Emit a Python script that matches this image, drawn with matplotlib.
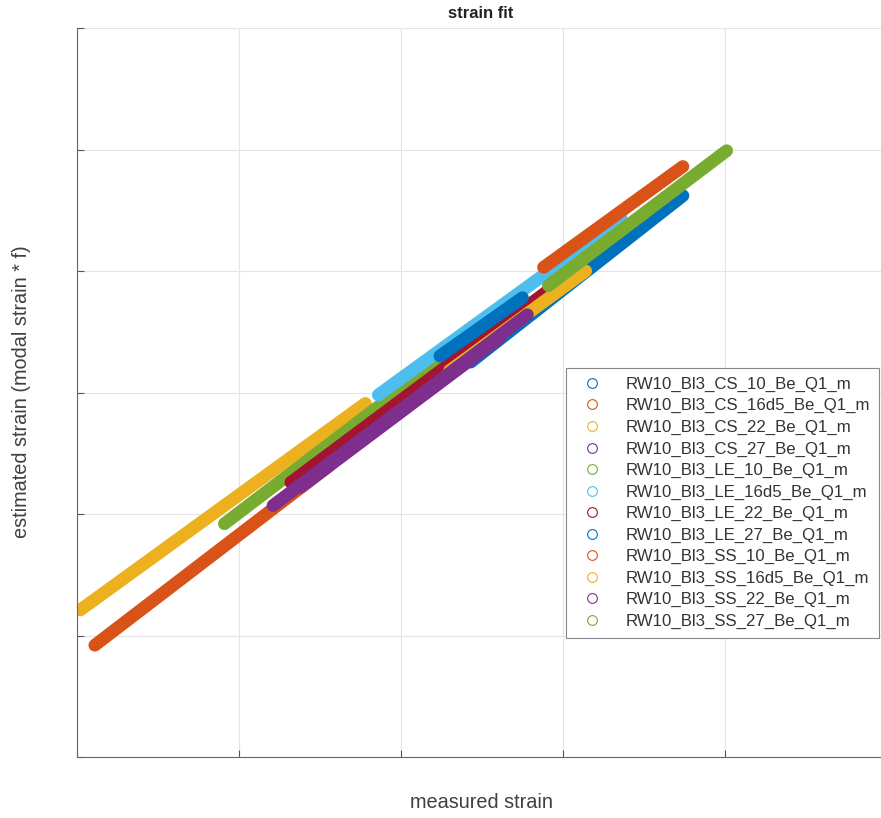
#!/usr/bin/env python3
"""Strain fit: estimated vs. measured strain per sensor (MATLAB-style look)."""

import matplotlib

matplotlib.use("Agg")
import matplotlib.pyplot as plt
from matplotlib.lines import Line2D

plt.rcParams["font.family"] = ["Liberation Sans", "DejaVu Sans"]

SERIES_NAMES = [
    "RW10_Bl3_CS_10_Be_Q1_m",
    "RW10_Bl3_CS_16d5_Be_Q1_m",
    "RW10_Bl3_CS_22_Be_Q1_m",
    "RW10_Bl3_CS_27_Be_Q1_m",
    "RW10_Bl3_LE_10_Be_Q1_m",
    "RW10_Bl3_LE_16d5_Be_Q1_m",
    "RW10_Bl3_LE_22_Be_Q1_m",
    "RW10_Bl3_LE_27_Be_Q1_m",
    "RW10_Bl3_SS_10_Be_Q1_m",
    "RW10_Bl3_SS_16d5_Be_Q1_m",
    "RW10_Bl3_SS_22_Be_Q1_m",
    "RW10_Bl3_SS_27_Be_Q1_m",
]

# measured strain (start, end) for each series
MEASURED = [
    (2.43, 3.74),
    (0.11, 1.56),
    (0.02, 1.78),
    (1.38, 2.61),
    (0.91, 2.30),
    (1.86, 3.36),
    (1.32, 2.90),
    (2.24, 2.75),
    (2.88, 3.74),
    (2.30, 3.14),
    (1.21, 2.78),
    (2.91, 4.01),
]

# estimated strain (start, end) for each series
ESTIMATED = [
    (3.25, 4.62),
    (0.92, 2.40),
    (1.21, 2.91),
    (2.22, 3.45),
    (1.92, 3.33),
    (2.98, 4.43),
    (2.26, 3.83),
    (3.30, 3.78),
    (4.03, 4.86),
    (3.18, 4.00),
    (2.07, 3.64),
    (3.88, 4.99),
]

MATLAB_COLORS = [
    "#0072BD",
    "#D95319",
    "#EDB120",
    "#7E2F8E",
    "#77AC30",
    "#4DBEEE",
    "#A2142F",
]

W, H = 881, 818


def main() -> None:
    fig = plt.figure(figsize=(W / 100, H / 100), dpi=100)
    ax = fig.add_axes([77 / W, (H - 757) / H, 810 / W, 729 / H])

    handles = []
    for i, name in enumerate(SERIES_NAMES):
        color = MATLAB_COLORS[i % len(MATLAB_COLORS)]
        ax.plot(
            MEASURED[i],
            ESTIMATED[i],
            color=color,
            linewidth=9.2,
            solid_capstyle="round",
            zorder=2 + i * 0.01,
        )
        handles.append(
            Line2D(
                [], [], linestyle="none", marker="o", markersize=7,
                markerfacecolor="none", markeredgecolor=color,
                markeredgewidth=0.8, label=name,
            )
        )

    ax.set_xlim(0, 5)
    ax.set_ylim(0, 6)
    ax.set_xticks(range(0, 6))
    ax.set_yticks(range(0, 7))
    ax.set_xticklabels([])
    ax.set_yticklabels([])
    ax.tick_params(direction="in", length=5, width=0.8, color="#555555")
    ax.grid(True, color="#e4e4e4", linewidth=0.8, zorder=0)
    ax.set_axisbelow(True)

    for side in ("top", "right"):
        ax.spines[side].set_visible(False)
    for side in ("left", "bottom"):
        ax.spines[side].set_color("#666666")
        ax.spines[side].set_linewidth(0.8)

    fig.text(481 / W, 1 - 14 / H, "strain fit", ha="center", va="center",
             fontsize=12, fontweight="bold", color="#222222")
    fig.text(481 / W, 1 - 802 / H, "measured strain", ha="center",
             va="center", fontsize=14.3, color="#404040")
    fig.text(22 / W, 1 - 392 / H, "estimated strain (modal strain * f)",
             ha="center", va="center", rotation=90, fontsize=14.3,
             color="#404040")

    leg = fig.legend(
        handles=handles,
        loc="lower left",
        bbox_to_anchor=(566 / W, (H - 638) / H),
        bbox_transform=fig.transFigure,
        borderaxespad=0,
        fontsize=12.1,
        labelspacing=0.38,
        handletextpad=1.0,
        handlelength=2.0,
        borderpad=0.55,
        fancybox=False,
        framealpha=1,
        edgecolor="#888888",
    )
    leg.get_frame().set_linewidth(0.8)
    for text in leg.get_texts():
        text.set_color("#333333")

    fig.savefig("out.png", dpi=100)
    plt.close(fig)


if __name__ == "__main__":
    main()
